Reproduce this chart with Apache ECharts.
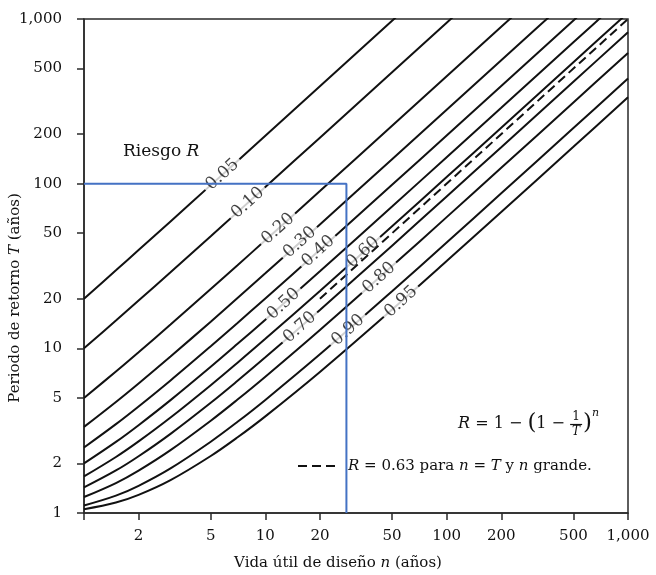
<!DOCTYPE html>
<html>
<head>
<meta charset="utf-8">
<script src="https://cdn.jsdelivr.net/npm/echarts@6/dist/echarts.min.js"></script>
<style>
  html, body { margin: 0; padding: 0; background: #fff; }
  #chart { width: 656px; height: 575px; }
</style>
</head>
<body>
<div id="chart"></div>
<script>
// Design life n (years) at which each risk curve is sampled
const nVals = [1, 1.5, 2, 3, 5, 7, 10, 20, 50, 100, 200, 500, 1000];

// Return period T (years) for each risk level R
const T005 = [20, 29.75, 39.49, 58.99, 97.98, 136.97, 195.46, 390.4, 975.3, 1950, 3900, 9748, 19496];
const T010 = [10, 14.74, 19.49, 28.98, 47.96, 66.94, 95.41, 190.3, 475.1, 949.6, 1898.7, 4746, 9492];
const T020 = [5, 7.23, 9.47, 13.95, 22.91, 31.87, 45.31, 90.13, 224.6, 448.6, 896.8, 2241, 4482];
const T030 = [3.333, 4.725, 6.122, 8.921, 14.52, 20.13, 28.54, 56.58, 140.7, 280.9, 561.2, 1402, 2804];
const T040 = [2.5, 3.465, 4.437, 6.387, 10.30, 14.21, 20.08, 39.65, 98.38, 196.3, 392.0, 979.3, 1958];
const T050 = [2, 2.702, 3.414, 4.847, 7.725, 10.61, 14.93, 29.36, 72.63, 144.8, 289.0, 721.9, 1443];
const T060 = [1.667, 2.188, 2.721, 3.800, 5.972, 8.150, 11.42, 22.33, 55.07, 109.6, 218.8, 546.2, 1092];
const T070 = [1.429, 1.812, 2.211, 3.025, 4.673, 6.329, 8.816, 17.12, 42.03, 83.56, 166.6, 415.8, 831.1];
const T080 = [1.25, 1.520, 1.809, 2.409, 3.634, 4.869, 6.727, 12.93, 31.57, 62.63, 124.8, 311.2, 621.8];
const T090 = [1.111, 1.275, 1.463, 1.866, 2.710, 3.567, 4.862, 9.196, 22.22, 43.93, 87.36, 217.6, 434.8];
const T095 = [1.053, 1.157, 1.288, 1.583, 2.219, 2.872, 3.863, 7.189, 17.20, 33.88, 67.26, 167.4, 334.3];

// R = 0.63 reference line (T = n for large n)
const dashedN = [20, 1000];
const dashedT = [20, 1000];

// In-line curve labels: text and the point on its curve where it sits
const labelText = ['0.05', '0.10', '0.20', '0.30', '0.40', '0.50', '0.60', '0.70', '0.80', '0.90', '0.95'];
const labelN = [5.8, 8, 11.75, 15.5, 19.6, 12.6, 34.6, 15.5, 42.4, 28.6, 56];
const labelT = [113.6, 76.4, 53.2, 44.0, 38.9, 18.6, 38.3, 13.4, 26.8, 12.9, 19.2];

// Guide lines: T = 100 years read across to n of about 28 years
const guideN = [1, 28, 28];
const guideT = [100, 100, 1];

// Axis tick values
const xTicks = [1, 2, 5, 10, 20, 50, 100, 200, 500, 1000];
const xTickLabels = [2, 5, 10, 20, 50, 100, 200, 500, 1000];
const yTicks = [1, 2, 5, 10, 20, 50, 100, 200, 500, 1000];

const curveT = [T005, T010, T020, T030, T040, T050, T060, T070, T080, T090, T095];

const serif = '"DejaVu Serif", "Liberation Serif", serif';
const ink = '#111';
const frame = '#2a2a2a';

const pairs = (xs, ys) => xs.map((x, i) => [x, ys[i]]);
const fmt = v => {
  const r = Math.round(v);
  return r >= 1000 ? r.toLocaleString('en-US') : String(r);
};

// Lays out a row of text pieces left to right, with an optional stacked fraction
const measureCtx = document.createElement('canvas').getContext('2d');
function textWidth(str, size, italic) {
  measureCtx.font = (italic ? 'italic ' : '') + size + 'px ' + serif;
  return measureCtx.measureText(str).width;
}
function layoutRow(x0, y, pieces) {
  const out = [];
  let x = x0;
  pieces.forEach(p => {
    if (p.frac) {
      const w = Math.max(textWidth(p.frac[0], p.s, false), textWidth(p.frac[1], p.s, true)) + 4;
      const cx = x + w / 2;
      out.push({ type: 'text', x: cx, y: y - 7, style: { text: p.frac[0], fontFamily: serif, fontSize: p.s, fill: ink, align: 'center', verticalAlign: 'middle' } });
      out.push({ type: 'line', shape: { x1: x, y1: y + 0.5, x2: x + w, y2: y + 0.5 }, style: { stroke: ink, lineWidth: 1.2 } });
      out.push({ type: 'text', x: cx, y: y + 8, style: { text: p.frac[1], fontFamily: serif, fontStyle: 'italic', fontSize: p.s, fill: ink, align: 'center', verticalAlign: 'middle' } });
      x += w + 1;
    } else {
      out.push({ type: 'text', x: x, y: y + (p.dy || 0), style: { text: p.t, fontFamily: serif, fontStyle: p.i ? 'italic' : 'normal', fontSize: p.s, fill: ink, verticalAlign: 'middle' } });
      x += textWidth(p.t, p.s, p.i);
    }
  });
  return out;
}

const series = curveT.map(ts => ({
  type: 'line',
  data: pairs(nVals, ts),
  smooth: 0.35,
  symbol: 'none',
  clip: true,
  z: 2,
  lineStyle: { color: ink, width: 2 },
  silent: true
}));

series.push({
  type: 'scatter',
  data: labelN.map((n, i) => ({ value: [n, labelT[i]], name: labelText[i] })),
  symbolSize: 0,
  z: 3,
  silent: true,
  label: {
    show: true,
    position: 'inside',
    formatter: p => p.name,
    rotate: 42,
    fontFamily: serif,
    fontSize: 17,
    color: ink,
    backgroundColor: '#fff',
    padding: [0, 4]
  }
});

series.push({
  type: 'line',
  data: pairs(dashedN, dashedT),
  symbol: 'none',
  z: 4,
  silent: true,
  lineStyle: { color: ink, width: 2, type: [9, 5] }
});

series.push({
  type: 'line',
  data: pairs(guideN, guideT),
  symbol: 'none',
  z: 6,
  silent: true,
  lineStyle: { color: '#4472c4', width: 2 }
});

const chart = echarts.init(document.getElementById('chart'), null, { renderer: 'canvas' });

chart.setOption({
  animation: false,
  backgroundColor: '#fff',
  grid: {
    left: 84, right: 28, top: 19, bottom: 62,
    show: true, borderColor: frame, borderWidth: 1.5, backgroundColor: 'transparent'
  },
  xAxis: {
    type: 'log', logBase: 10, min: 1, max: 1000,
    axisLine: { lineStyle: { color: frame, width: 1.5 } },
    axisTick: { customValues: xTicks, length: 7, lineStyle: { color: frame, width: 1.5 } },
    axisLabel: {
      customValues: xTickLabels, formatter: fmt, margin: 16,
      fontFamily: serif, fontSize: 15, color: ink
    },
    splitLine: { show: false },
    minorTick: { show: false }
  },
  yAxis: {
    type: 'log', logBase: 10, min: 1, max: 1000,
    axisLine: { lineStyle: { color: frame, width: 1.5 } },
    axisTick: { customValues: yTicks, length: 7, lineStyle: { color: frame, width: 1.5 } },
    axisLabel: {
      customValues: yTicks, formatter: fmt, margin: 22,
      fontFamily: serif, fontSize: 15, color: ink
    },
    splitLine: { show: false },
    minorTick: { show: false }
  },
  graphic: [
    {
      type: 'text', left: 123, top: 143, silent: true,
      style: {
        text: 'Riesgo {i|R}', fontFamily: serif, fontSize: 17, fill: ink,
        rich: { i: { fontStyle: 'italic', fontFamily: serif, fontSize: 17 } }
      }
    },
    {
      type: 'text', x: 15, y: 298, rotation: Math.PI / 2, silent: true,
      style: {
        text: 'Periodo de retorno {i|T} (años)', fontFamily: serif, fontSize: 15, fill: ink,
        align: 'center', verticalAlign: 'middle',
        rich: { i: { fontStyle: 'italic', fontFamily: serif, fontSize: 15 } }
      }
    },
    {
      type: 'text', x: 338, y: 563, silent: true,
      style: {
        text: 'Vida útil de diseño {i|n} (años)', fontFamily: serif, fontSize: 15, fill: ink,
        align: 'center', verticalAlign: 'middle',
        rich: { i: { fontStyle: 'italic', fontFamily: serif, fontSize: 15 } }
      }
    },
    // Risk formula R = 1 - (1 - 1/T)^n
    {
      type: 'group', silent: true,
      children: layoutRow(458, 424, [
        { t: 'R', s: 16, i: true },
        { t: ' = 1 − ', s: 16 },
        { t: '(', s: 23, dy: -1 },
        { t: '1 − ', s: 16 },
        { frac: ['1', 'T'], s: 12 },
        { t: ')', s: 23, dy: -1 },
        { t: 'n', s: 11, i: true, dy: -11 }
      ])
    },
    // Legend for the dashed reference line
    {
      type: 'line', silent: true,
      shape: { x1: 298, y1: 466, x2: 340, y2: 466 },
      style: { stroke: ink, lineWidth: 2, lineDash: [9, 5] }
    },
    {
      type: 'text', x: 348, y: 466, silent: true,
      style: {
        text: '{i|R} = 0.63 para {i|n} = {i|T} y {i|n} grande.',
        fontFamily: serif, fontSize: 15, fill: ink, verticalAlign: 'middle',
        rich: { i: { fontStyle: 'italic', fontFamily: serif, fontSize: 15 } }
      }
    }
  ],
  series: series
});
</script>
</body>
</html>
